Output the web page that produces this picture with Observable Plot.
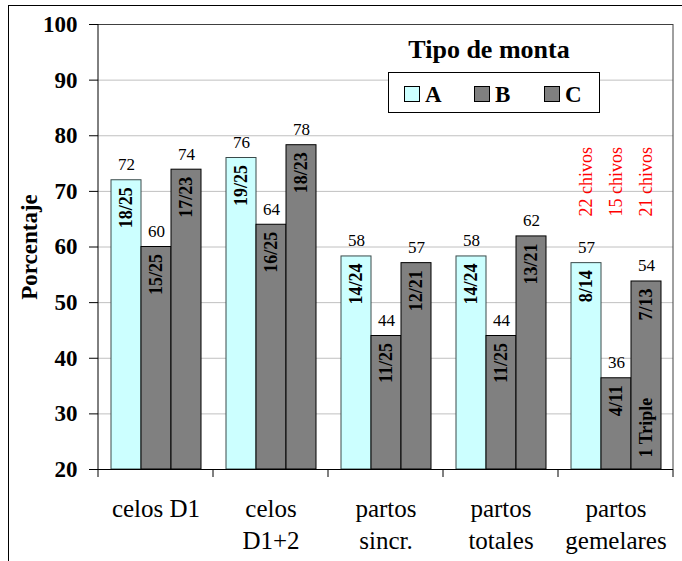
<!DOCTYPE html>
<html><head><meta charset="utf-8">
<script src="https://cdn.jsdelivr.net/npm/d3@7"></script>
<script src="https://cdn.jsdelivr.net/npm/@observablehq/plot@0.6"></script>
<style>
html,body{margin:0;padding:0;background:#fff;overflow:hidden;}
#wrap{position:relative;width:682px;height:561px;overflow:hidden;background:#fff;}
#border{position:absolute;left:8px;top:5px;width:740px;height:640px;border:1px solid #000;box-sizing:border-box;}
#chart{position:absolute;left:0;top:0;}
#chart svg, #chart svg text{font-family:"Liberation Serif","Times New Roman",Times,serif !important;}
</style></head>
<body><div id="wrap"><div id="border"></div><div id="chart"></div></div>
<script>
const categorias = ["celos D1", "celos D1+2", "partos sincr.", "partos totales", "partos gemelares"];
const etiquetasEje = ["celos D1", "celos\nD1+2", "partos\nsincr.", "partos\ntotales", "partos\ngemelares"];
const series = ["A", "B", "C"];
const coloresSerie = ["#CCFFFF", "#808080", "#808080"];
const valoresA = [72, 76, 58.3, 58.3, 57.1];
const valoresB = [60, 64, 44, 44, 36.4];
const valoresC = [73.9, 78.3, 57.1, 61.9, 53.8];
const etiquetasA = ["72", "76", "58", "58", "57"];
const etiquetasB = ["60", "64", "44", "44", "36"];
const etiquetasC = ["74", "78", "57", "62", "54"];
const fraccionesA = ["18/25", "19/25", "14/24", "14/24", "8/14"];
const fraccionesB = ["15/25", "16/25", "11/25", "11/25", "4/11"];
const fraccionesC = ["17/23", "18/23", "12/21", "13/21", "7/13"];
const chivos = ["22 chivos", "15 chivos", "21 chivos"];
const notaTriple = "1 Triple";
const yTicks = [20, 30, 40, 50, 60, 70, 80, 90, 100];
const gridTicks = [30, 40, 50, 60, 70, 80, 90];
const tituloLeyenda = "Tipo de monta";
const tituloY = "Porcentaje";

const valores = {A: valoresA, B: valoresB, C: valoresC};
const etiquetas = {A: etiquetasA, B: etiquetasB, C: etiquetasC};
const fracciones = {A: fraccionesA, B: fraccionesB, C: fraccionesC};
const filas = [];
categorias.forEach((c, i) => series.forEach(s => filas.push({cat: c, serie: s, valor: valores[s][i], pct: etiquetas[s][i], frac: fracciones[s][i]})));
const ultima = categorias[categorias.length - 1];
const filasChivos = series.map((s, i) => ({cat: ultima, serie: s, txt: chivos[i]}));
const filaTriple = [{cat: ultima, serie: "C", txt: notaTriple}];

const serif = "Liberation Serif, Times New Roman, Times, serif";

const plot = Plot.plot({
  width: 682, height: 561,
  marginLeft: 97, marginRight: 9, marginTop: 24, marginBottom: 92,
  style: {fontFamily: serif, background: "transparent", color: "#000", overflow: "visible"},
  fx: {domain: categorias, padding: 0, label: null},
  x: {domain: series, paddingInner: 0, paddingOuter: 0.389, axis: null, label: null},
  y: {domain: [20, 100], label: null},
  color: {domain: series, range: coloresSerie},
  marks: [
    Plot.gridY({ticks: gridTicks, stroke: "#c0c0c0", strokeOpacity: 1}),
    Plot.ruleY([100], {stroke: "#404040"}),
    Plot.barY(filas.filter(d => d.serie === "A"), {fx: "cat", x: "serie", y1: 20, y2: "valor", fill: "serie", stroke: "#3a4a4a", strokeWidth: 1}),
    Plot.barY(filas.filter(d => d.serie !== "A"), {fx: "cat", x: "serie", y1: 20, y2: "valor", fill: "serie", stroke: "#000", strokeWidth: 1}),
    Plot.ruleY([20], {stroke: "#000"}),
    Plot.text(filas, {fx: "cat", x: "serie", y: "valor", text: "pct", lineAnchor: "bottom", dy: -10, fontSize: 17, fontFamily: serif}),
    Plot.text(filas, {fx: "cat", x: "serie", y: "valor", text: "frac", rotate: -90, textAnchor: "end", dy: 7, fontSize: 18, fontWeight: "bold", fontFamily: serif}),
    Plot.text(filaTriple, {fx: "cat", x: "serie", y: 20, text: "txt", rotate: -90, textAnchor: "start", dy: -12, fontSize: 18, fontWeight: "bold", fontFamily: serif}),
    Plot.text(filasChivos, {fx: "cat", x: "serie", y: 65.5, text: "txt", rotate: -90, textAnchor: "start", fill: "#ff0000", fontSize: 18, fontFamily: serif}),
    Plot.axisY({ticks: yTicks, tickSize: 9, tickPadding: 12, fontSize: 23, fontWeight: "bold", fontFamily: serif, label: tituloY, labelArrow: false, labelAnchor: "center", labelOffset: 78}),
    Plot.axisFx({anchor: "bottom", tickSize: 0, tickPadding: 24, fontSize: 25, lineHeight: 1.3, fontFamily: serif, label: null,
      tickFormat: c => etiquetasEje[categorias.indexOf(c)]})
  ]
});

document.getElementById("chart").appendChild(plot);

// líneas verticales del marco y marcas de separación entre grupos, a partir de las escalas de Plot
const svg = d3.select(plot);
const fxs = plot.scale("fx"), ys = plot.scale("y"), col = plot.scale("color");
const y0 = ys.apply(20), y1 = ys.apply(100);
const bordes = categorias.map(c => fxs.apply(c)).concat([fxs.apply(ultima) + fxs.bandwidth]);
const g = svg.append("g");
g.selectAll("line.sep").data(bordes).join("line")
  .attr("x1", d => d).attr("x2", d => d).attr("y1", y0).attr("y2", y0 + 8).attr("stroke", "#000");
g.append("line").attr("x1", bordes[0]).attr("x2", bordes[0]).attr("y1", y1).attr("y2", y0).attr("stroke", "#000");
g.append("line").attr("x1", bordes[5]).attr("x2", bordes[5]).attr("y1", y1).attr("y2", y0).attr("stroke", "#404040");

// leyenda
const lg = svg.append("g").attr("font-family", serif).attr("font-weight", "bold");
lg.append("text").attr("x", 489).attr("y", 58).attr("text-anchor", "middle").attr("font-size", 26).text(tituloLeyenda);
lg.append("rect").attr("x", 388.5).attr("y", 72.5).attr("width", 211).attr("height", 40).attr("fill", "#fff").attr("stroke", "#000");
series.forEach((s, i) => {
  const x = 404 + i * 70;
  lg.append("rect").attr("x", x + 0.5).attr("y", 86.5).attr("width", 15).attr("height", 15).attr("fill", col.apply(s)).attr("stroke", "#000");
  lg.append("text").attr("x", x + 21).attr("y", 102).attr("text-anchor", "start").attr("font-size", 23).text(s);
});
</script>
</body></html>
